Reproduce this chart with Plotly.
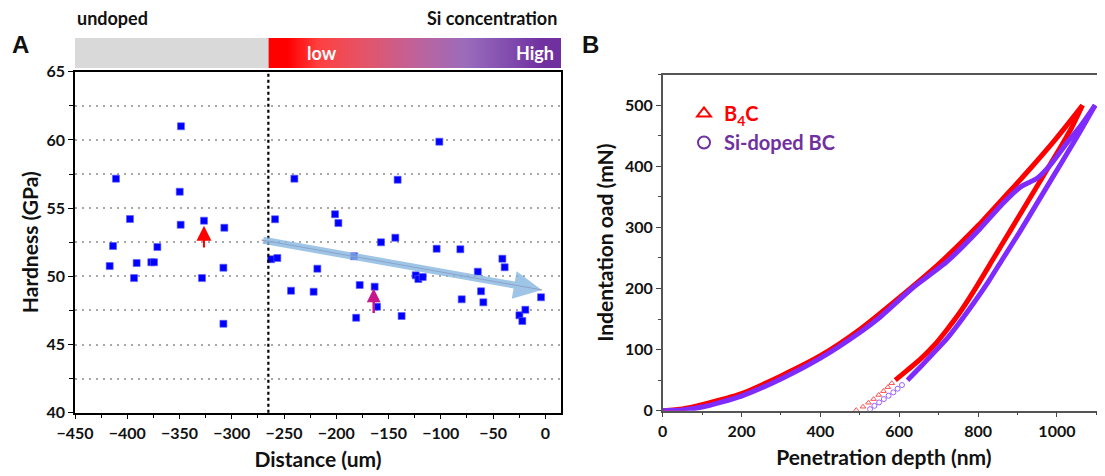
import plotly.graph_objects as go

# ---- panel A: hardness vs distance ----
dist_um = [-416.8, -413.6, -410.8, -397.4, -393.5, -391.0, -377.0, -374.4, -371.2,
           -349.8, -348.9, -348.6, -328.5, -326.6, -308.0, -308.0, -307.1,
           -262.4, -258.6, -256.4, -243.3, -240.1, -221.7, -218.1, -201.2, -198.0,
           -183.0, -181.0, -177.6, -163.3, -161.0, -157.2, -143.5, -141.3, -137.5,
           -124.0, -121.5, -117.3, -104.0, -101.4, -81.3, -80.0, -64.6, -61.5, -59.3,
           -41.1, -38.9, -24.8, -22.0, -19.1, -4.1]
hardness_gpa = [50.75, 52.22, 57.16, 54.2, 49.87, 50.97, 51.03, 51.03, 52.15,
                56.2, 53.78, 61.0, 49.87, 54.08, 50.63, 46.52, 53.56,
                51.25, 54.18, 51.34, 48.94, 57.16, 48.87, 50.56, 54.55, 53.9,
                51.47, 46.96, 49.36, 49.24, 47.77, 52.49, 52.83, 57.08, 47.09,
                50.07, 49.8, 49.95, 52.02, 59.87, 51.98, 48.31, 50.34, 48.9, 48.09,
                51.29, 50.66, 47.14, 46.72, 47.55, 48.46]
boundary_um = -265            # undoped / Si-doped boundary
trend_x = [-271.4, -3.4]      # trend arrow tail -> tip
trend_y = [52.66, 49.0]
red_arrow = dict(x=-326.6, y0=52.0, y1=53.7)
mag_arrow = dict(x=-164.2, y0=47.2, y1=49.1)

# ---- panel B: load-displacement ----
b4c_load_x = [0, 50, 100, 200, 300, 400, 500, 600, 700, 800, 864, 890, 932, 991, 1025, 1065]
b4c_load_y = [0, 3, 10, 28, 57, 90, 133, 185, 240, 303, 348, 366, 396, 440, 467, 500]
b4c_unload_x = [1065, 1038, 1008, 966, 924, 881, 839, 797, 755, 719, 690, 653, 620, 590]
b4c_unload_y = [500, 464, 430, 385, 340, 294, 249, 204, 162, 131, 108, 84, 66, 50]
b4c_tail_x = [581, 571, 560, 548, 535, 522, 508, 491]
b4c_tail_y = [45, 38.5, 32, 25.7, 19, 13, 6.5, 1]

si_load_x = [0, 50, 100, 200, 300, 400, 500, 551, 636, 721, 805, 864, 907, 924, 949, 983, 1025, 1059, 1097]
si_load_y = [0, 1, 6, 24, 52, 86, 128, 153, 202, 244, 298, 340, 366, 372, 380, 402, 438, 465, 500]
si_unload_x = [1097, 1067, 1034, 991, 949, 907, 864, 822, 780, 742, 721, 685, 653, 621]
si_unload_y = [500, 466, 430, 384, 339, 294, 250, 207, 168, 135, 118, 93, 71, 50]
si_tail_x = [607, 596, 585, 573, 561, 549, 537, 526]
si_tail_y = [42, 36, 30, 24.5, 19, 13.5, 8, 2.5]

# gradient bar (Si concentration)
grad_edges = [-265, -230, -195, -160, -125, -90, -55, -20, 15]
grad_z = [[0, 1, 2, 3, 4, 5, 6, 7]]

FONT = "Lato"
RED = "#ff0000"
VIOLET = "#7f2bff"
PURPLE = "#7030a0"

# the page body adds an 8px margin, so the figure is drawn 8px in from the window corner
W, H, OFF = 1097, 468, 8


def px(sx):
    return (sx - OFF) / W


def py(sy):
    return 1 - (sy - OFF) / H


fig = go.Figure()

# colour bar above panel A
fig.add_trace(go.Heatmap(
    x=grad_edges, y=[0, 1], z=grad_z, xaxis="x3", yaxis="y3", zsmooth="best",
    showscale=False, hoverinfo="skip",
    colorscale=[[0, "#ff0000"], [0.12, "#ff4040"], [0.3, "#e45468"], [0.5, "#c0629a"],
                [0.7, "#9a6cbc"], [0.85, "#8450b0"], [1, "#7030a0"]],
))

fig.add_trace(go.Scatter(
    x=dist_um, y=hardness_gpa, mode="markers", showlegend=False,
    marker=dict(symbol="square", size=7, color="#0000ff", line=dict(width=0.6, color="#5a5aff")),
    xaxis="x", yaxis="y",
))
# thin line down the middle of the trend arrow
fig.add_trace(go.Scatter(
    x=trend_x, y=trend_y, mode="lines", showlegend=False,
    line=dict(color="#a0507a", width=1), xaxis="x", yaxis="y",
))

# panel B curves
for xs, ys, col in [(b4c_load_x, b4c_load_y, RED), (b4c_unload_x, b4c_unload_y, RED),
                    (si_load_x, si_load_y, VIOLET), (si_unload_x, si_unload_y, VIOLET)]:
    fig.add_trace(go.Scatter(
        x=xs, y=ys, mode="lines", showlegend=False,
        line=dict(color=col, width=5, shape="spline", smoothing=0.6),
        xaxis="x2", yaxis="y2",
    ))
fig.add_trace(go.Scatter(
    x=b4c_tail_x, y=b4c_tail_y, mode="markers", showlegend=False,
    marker=dict(symbol="triangle-up-open", size=5, color="#ff5050", line=dict(width=1)),
    xaxis="x2", yaxis="y2",
))
fig.add_trace(go.Scatter(
    x=si_tail_x, y=si_tail_y, mode="markers", showlegend=False,
    marker=dict(symbol="circle-open", size=5, color="#9a60ff", line=dict(width=1)),
    xaxis="x2", yaxis="y2",
))
# legend entries
fig.add_trace(go.Scatter(
    x=[None], y=[None], mode="markers", xaxis="x2", yaxis="y2",
    name="<span style='color:#ff0000'>B<sub>4</sub>C</span>",
    marker=dict(symbol="triangle-up-open", size=13, color=RED, line=dict(width=2.5)),
))
fig.add_trace(go.Scatter(
    x=[None], y=[None], mode="markers", xaxis="x2", yaxis="y2",
    name="<span style='color:#7030a0'>Si-doped BC</span>",
    marker=dict(symbol="circle-open", size=13, color=PURPLE, line=dict(width=2.5)),
))

tickfont = dict(family=FONT, size=16, color="#111", weight="bold")
titlefont = dict(family=FONT, size=21, color="#111", weight="bold")
GRID = dict(showgrid=True, griddash="2px,5px", gridcolor="#a8a8a8", gridwidth=1.5)

fig.update_layout(
    width=W, height=H,
    margin=dict(l=0, r=0, t=0, b=0, autoexpand=False),
    paper_bgcolor="white", plot_bgcolor="white",
    font=dict(family=FONT),
    showlegend=True,
    legend=dict(x=px(684), y=py(94), xanchor="left", yanchor="top", bgcolor="rgba(0,0,0,0)",
                font=dict(family=FONT, size=20, weight="bold"), itemsizing="constant",
                tracegroupgap=2),
    xaxis=dict(domain=[px(75), px(561)], range=[-450, 15], anchor="y", automargin=False,
               tick0=-450, dtick=50, ticks="outside", ticklen=5, tickcolor="black",
               minor=dict(dtick=25, ticks="outside", ticklen=4, tickcolor="black"),
               showline=True, mirror=True, linecolor="black", linewidth=1.5,
               showgrid=False, zeroline=False, tickfont=tickfont,
               title=dict(text="Distance (um)", font=titlefont, standoff=12)),
    yaxis=dict(domain=[py(412.7), py(71.7)], range=[40, 65], anchor="x", automargin=False,
               dtick=5, ticks="outside", ticklen=5, tickcolor="black",
               minor=dict(dtick=2.5, ticks="outside", ticklen=4, tickcolor="black", **GRID),
               showline=True, mirror=True, linecolor="black", linewidth=1.5,
               zeroline=False, tickfont=tickfont, **GRID,
               title=dict(text="Hardness (GPa)", font=titlefont, standoff=2)),
    xaxis2=dict(domain=[px(662.7), 1.0], range=[0, 1122], anchor="y2", automargin=False,
                dtick=200, ticks="outside", ticklen=5, tickcolor="#444",
                minor=dict(dtick=100, ticks="outside", ticklen=3, tickcolor="#444"),
                showline=True, mirror=True, linecolor="#555", linewidth=1.5,
                showgrid=False, zeroline=False, tickfont=tickfont,
                title=dict(text="Penetration depth (nm)", font=titlefont, standoff=12)),
    yaxis2=dict(domain=[py(410.7), py(74.7)], range=[0, 550], anchor="x2", automargin=False,
                dtick=100, ticks="outside", ticklen=5, tickcolor="#444",
                minor=dict(dtick=50, ticks="outside", ticklen=3, tickcolor="#444"),
                showline=True, linecolor="#555", linewidth=1.5,
                showgrid=False, zeroline=False, tickfont=tickfont,
                title=dict(text="Indentation oad (mN)", font=titlefont, standoff=6)),
    xaxis3=dict(domain=[px(75), px(561)], range=[-450, 15], anchor="y3", visible=False),
    yaxis3=dict(domain=[py(68), py(38)], range=[0, 1], anchor="x3", visible=False),
)

# grey "undoped" part of the bar
fig.add_shape(type="rect", xref="x3", yref="y3", x0=-450, x1=boundary_um, y0=0, y1=1,
              fillcolor="#d9d9d9", line=dict(width=0), layer="above")
# boundary line
fig.add_shape(type="line", xref="x", yref="y domain", x0=boundary_um, x1=boundary_um, y0=0, y1=1,
              line=dict(color="black", width=2.2, dash="dot"))

# trend arrow
fig.add_annotation(x=trend_x[1], y=trend_y[1], ax=trend_x[0], ay=trend_y[0],
                   xref="x", yref="y", axref="x", ayref="y", text="", showarrow=True,
                   arrowhead=2, arrowsize=0.8, arrowwidth=7,
                   arrowcolor="rgba(135,183,224,0.8)", standoff=0)
for a, col, w, s in [(red_arrow, RED, 2, 1.5), (mag_arrow, "#c8168c", 2.5, 1.1)]:
    fig.add_annotation(x=a["x"], y=a["y1"], ax=a["x"], ay=a["y0"],
                       xref="x", yref="y", axref="x", ayref="y", text="", showarrow=True,
                       arrowhead=2, arrowsize=s, arrowwidth=w, arrowcolor=col, standoff=0)

labels = [
    dict(text="A", sx=20, sy=45, size=24, color="#111", anchor="center", fam="Arial"),
    dict(text="B", sx=590, sy=45, size=24, color="#111", anchor="center", fam="Arial"),
    dict(text="undoped", sx=75, sy=18, size=18, color="#111", anchor="left", fam=FONT),
    dict(text="Si concentration", sx=559, sy=18, size=18, color="#111", anchor="right", fam=FONT),
    dict(text="low", sx=322, sy=53, size=18, color="white", anchor="center", fam=FONT),
    dict(text="High", sx=556, sy=53, size=18, color="white", anchor="right", fam=FONT),
]
for lb in labels:
    fig.add_annotation(text=lb["text"], x=px(lb["sx"]), y=py(lb["sy"]), xref="paper", yref="paper",
                       xanchor=lb["anchor"], yanchor="middle", showarrow=False,
                       font=dict(family=lb["fam"], size=lb["size"], color=lb["color"], weight="bold"))

fig.write_html("out.html")
